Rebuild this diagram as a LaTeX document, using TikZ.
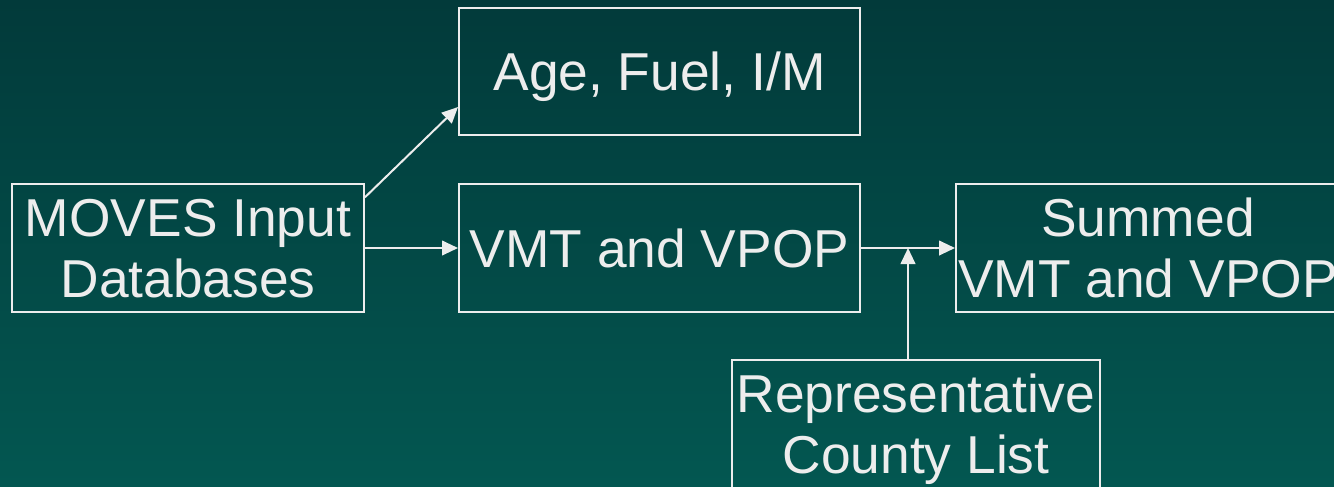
\documentclass[tikz,border=0pt]{standalone}
\usepackage{fontspec}
\setmainfont{Liberation Sans}
\usetikzlibrary{arrows.meta}
\definecolor{bgtop}{HTML}{023A3A}
\definecolor{bgbot}{HTML}{035751}
\definecolor{ink}{HTML}{EDEDED}
\tikzset{
  box/.style={draw=ink, line width=1.5pt, text=ink, inner sep=0pt, align=center,
    text depth=0pt, font=\fontsize{40}{45.75}\selectfont},
  flow/.style={draw=ink, line width=1.5pt, -{Triangle[length=12pt,width=11pt]}}
}
\begin{document}
\begin{tikzpicture}[x=0.75pt,y=-0.75pt]
\useasboundingbox (0,0) rectangle (1334,486);
\shade[top color=bgtop, bottom color=bgbot] (0,0) rectangle (1334,486);
\node[box, minimum width=264pt, minimum height=96pt] (moves) at (188,248) {MOVES Input\\Databases};
\node[box, minimum width=300.75pt, minimum height=95.25pt] (age) at (659.5,71.5) {Age, Fuel, I/M};
\node[box, minimum width=300.75pt, minimum height=96pt] (vmt) at (659.5,248) {VMT and VPOP};
\node[box, minimum width=288pt, minimum height=96pt] (sum) at (1148,248) {Summed\\VMT and VPOP};
\node[box, minimum width=276pt, minimum height=96pt] (rep) at (916,424) {Representative\\County List};
\coordinate (join) at (908,248);

\path[flow] (moves.16) -- (age.190);
\path[flow] (moves) -- (vmt);
\path[flow] (vmt) -- (sum);
\path[flow] (rep.north -| join) -- (join);
\end{tikzpicture}
\end{document}
